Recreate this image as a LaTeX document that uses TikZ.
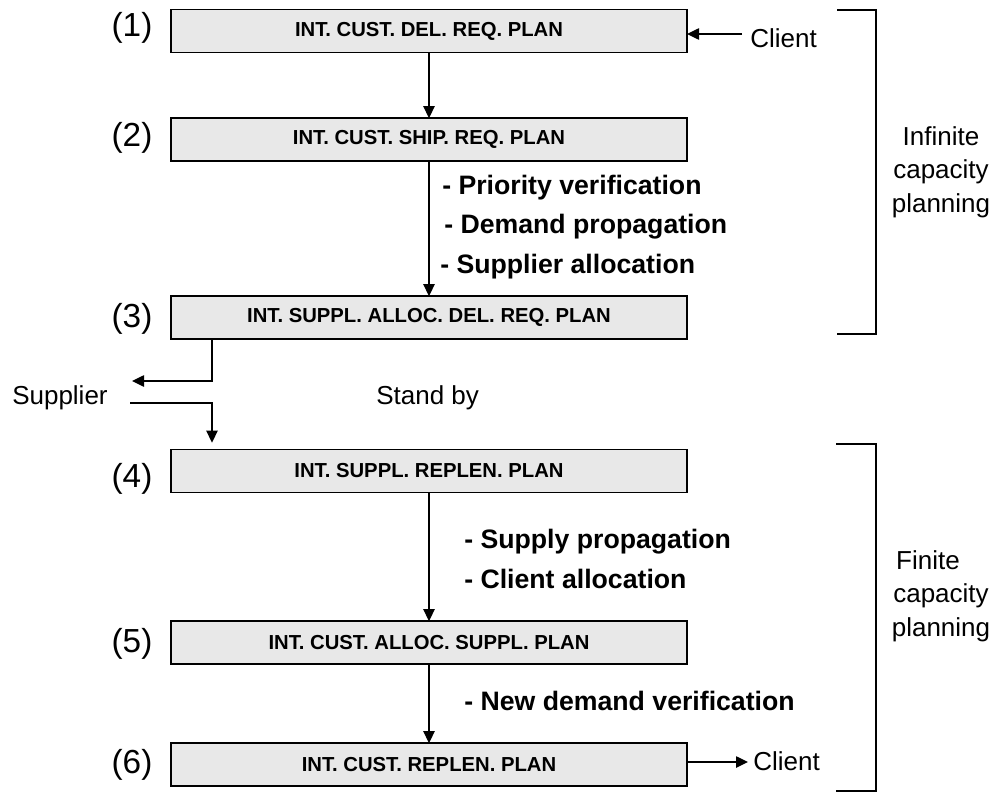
\documentclass[tikz,border=0pt]{standalone}
\usepackage{fontspec}
\setmainfont{Liberation Sans}
\usetikzlibrary{arrows.meta,calc}
\definecolor{boxgray}{RGB}{232,232,232}
\begin{document}
\begin{tikzpicture}[x=0.75pt,y=-0.75pt,
  plan/.style={draw=black, fill=boxgray, line width=1.1pt, minimum width=387pt,
    minimum height=32pt, inner sep=0pt, outer sep=0pt,
    font=\fontsize{15.2}{18}\selectfont\bfseries},
  flow/.style={line width=1.1pt, -{Triangle[length=9pt,width=8.5pt]}},
  tasklbl/.style={anchor=base west, inner sep=0pt,
    font=\fontsize{20}{24}\selectfont\bfseries},
  plain/.style={inner sep=0pt, font=\fontsize{19.5}{25}\selectfont},
  numlbl/.style={inner sep=0pt, font=\fontsize{25}{28}\selectfont},
  brace/.style={line width=2.2pt}]
\useasboundingbox (0,0) rectangle (999,796);

% plan boxes
\node[plan] (p1) at (429,31)    {INT. CUST. DEL. REQ. PLAN};
\node[plan] (p2) at (429,139.5) {INT. CUST. SHIP. REQ. PLAN};
\node[plan] (p3) at (429,317.5) {INT. SUPPL. ALLOC. DEL. REQ. PLAN};
\node[plan] (p4) at (429,471)   {INT. SUPPL. REPLEN. PLAN};
\node[plan] (p5) at (429,642.5) {INT. CUST. ALLOC. SUPPL. PLAN};
\node[plan] (p6) at (429,764.5) {INT. CUST. REPLEN. PLAN};

% step numbers
\node[numlbl] (n1) at (132,28)    {(1)};
\node[numlbl] (n2) at (132,137.5) {(2)};
\node[numlbl] (n3) at (132,319)   {(3)};
\node[numlbl] (n4) at (132,479)   {(4)};
\node[numlbl] (n5) at (132,643.5) {(5)};
\node[numlbl] (n6) at (132,765)   {(6)};

% vertical flow
\draw[flow] (p1) -- (p2);
\draw[flow] (p2) -- (p3);
\draw[flow] (p4) -- (p5);
\draw[flow] (p5) -- (p6);

% operations between plans
\node[tasklbl] (t1) at (442,194) {- Priority verification};
\node[tasklbl] (t2) at (444,233) {- Demand propagation};
\node[tasklbl] (t3) at (440,273) {- Supplier allocation};
\node[tasklbl] (t4) at (464,548) {- Supply propagation};
\node[tasklbl] (t5) at (464,588) {- Client allocation};
\node[tasklbl] (t6) at (464,710) {- New demand verification};

% client input and output
\node[plain, anchor=base west] (cin) at (750,47) {Client};
\coordinate (cinend) at (742,34);
\draw[flow] (cinend) -- (cinend -| p1.east);
\node[plain, anchor=base west] (cout) at (753,770) {Client};
\coordinate (couttip) at (748,762);
\draw[flow] (couttip -| p6.east) -- (couttip);

% supplier loop
\node[plain, anchor=base west] (sup) at (12,404) {Supplier};
\node[plain, anchor=base west] (sb) at (376,404) {Stand by};
\coordinate (tap) at ($(p3.south west)+(41,0)$);
\coordinate (outtip) at (132,381);
\draw[flow] (tap) |- (outtip);
\coordinate (inbeg) at (130,403);
\coordinate (drop) at ($(p4.north west)+(41,-7)$);
\draw[flow] (inbeg) -| (drop);

% phase brackets
\draw[brace] (837,10) -- (876,10) -- (876,334) -- (837,334);
\draw[brace] (836,444) -- (876,444) -- (876,791) -- (836,791);
\node[plain, align=center] (inf) at (941,172) {Infinite\\capacity\\planning};
\node[plain, align=center] (fin) at (941,596) {Finite\hspace*{19.5pt}\\capacity\\planning};
\end{tikzpicture}
\end{document}
